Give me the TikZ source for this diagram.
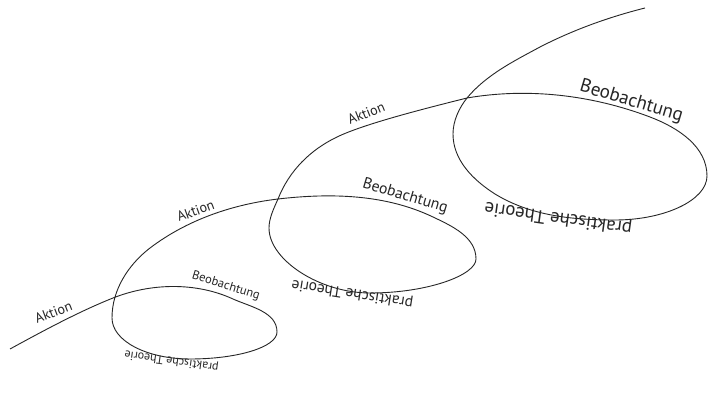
\documentclass[tikz,border=0pt]{standalone}
\usepackage{fontspec}
\setmainfont{PT Sans}
\definecolor{ink}{HTML}{262626}
\tikzset{
  spiral/.style={draw=ink, line width=0.9pt, line join=round},
  lbl/.style={inner sep=0pt, anchor=base, text=ink},
  aktion/.style={inner sep=0pt, anchor=base west, text=ink, font=\fontsize{14}{14}\selectfont}
}
\begin{document}
\begin{tikzpicture}[x=1pt,y=-1pt]
\useasboundingbox (0,0) rectangle (710,419);
\fill[white] (0,0) rectangle (710,419);

% knots of the spiral
\coordinate (k0) at (10,349);
\coordinate (x1) at (113,298);
\coordinate (k2a) at (233,299);
\coordinate (k2) at (277,332);
\coordinate (k3) at (190,359);
\coordinate (k4) at (112,318);
\coordinate (k4b) at (150,248);
\coordinate (x2) at (278,199);
\coordinate (k6a) at (433,217);
\coordinate (k6) at (476,259);
\coordinate (k7) at (370,293);
\coordinate (k8) at (269,228);
\coordinate (k9) at (337,137);
\coordinate (x3) at (467,98);
\coordinate (k11a) at (650,117);
\coordinate (k11) at (707,176);
\coordinate (k12) at (615,220);
\coordinate (k12b) at (495,194);
\coordinate (k13) at (453,134);
\coordinate (k14) at (540,47);
\coordinate (k15) at (645,8);

\draw[spiral] (k0)
  .. controls (43,331) and (78,312) .. (x1)
  .. controls (151,283) and (196,282) .. (k2a)
  .. controls (251,307) and (277,312) .. (k2)
  .. controls (277,347) and (238,359) .. (k3)
  .. controls (147,359) and (112,341) .. (k4)
  .. controls (112,290) and (128,265) .. (k4b)
  .. controls (187,220) and (232,204.5) .. (x2)
  .. controls (330,193) and (385,194) .. (k6a)
  .. controls (452,226) and (476,237) .. (k6)
  .. controls (476,275) and (428,293) .. (k7)
  .. controls (320,293) and (269,260) .. (k8)
  .. controls (269,218) and (274,208) .. (x2)
  .. controls (289,171) and (310,150) .. (k9)
  .. controls (364,124) and (423,109) .. (x3)
  .. controls (528,87.5) and (592,95) .. (k11a)
  .. controls (679,128) and (707,147) .. (k11)
  .. controls (707,200) and (665,220) .. (k12)
  .. controls (573,220) and (531,216) .. (k12b)
  .. controls (473,180) and (453,160) .. (k13)
  .. controls (453,121) and (459,108) .. (x3)
  .. controls (486,75) and (514,61) .. (k14)
  .. controls (573,30) and (609,17) .. (k15);

% Aktion labels
\node[aktion, rotate=21] (a1) at (37,324) {Aktion};
\node[aktion, rotate=20] (a2) at (179,222) {Aktion};
\node[aktion, rotate=22] (a3) at (350,125) {Aktion};

% Beobachtung labels
\node[lbl, rotate=-17, font=\fontsize{12.5}{12.5}\selectfont] (b1) at (225,289) {Beobachtung};
\node[lbl, rotate=-16.5, font=\fontsize{15.7}{15.7}\selectfont] (b2) at (404,200) {Beobachtung};
\node[lbl, rotate=-16.5, font=\fontsize{19}{19}\selectfont] (b3) at (630,106) {Beobachtung};

% praktische Theorie labels (upside down)
\node[lbl, rotate=172, font=\fontsize{12}{12}\selectfont] (p1) at (172,357.5) {praktische Theorie};
\node[lbl, rotate=171, font=\fontsize{15.5}{15.5}\selectfont] (p2) at (353,289.5) {praktische Theorie};
\node[lbl, rotate=172, font=\fontsize{18.8}{18.8}\selectfont] (p3) at (559,213) {praktische Theorie};
\end{tikzpicture}
\end{document}
